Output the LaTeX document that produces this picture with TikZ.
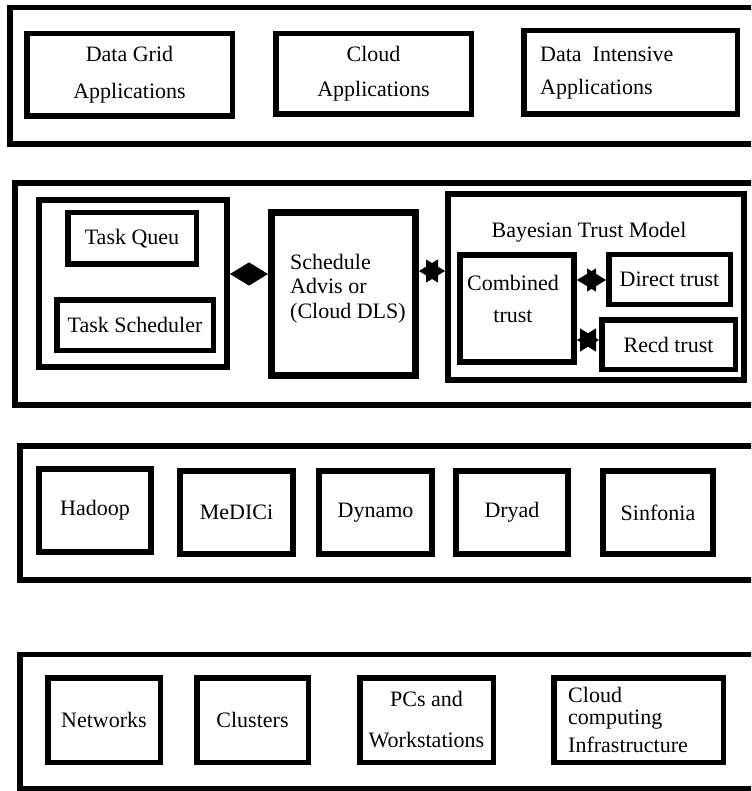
\documentclass[tikz,border=0pt]{standalone}
\usepackage{fontspec}
\setmainfont{Liberation Serif}
\usetikzlibrary{arrows.meta}
\begin{document}
\begin{tikzpicture}[x=1pt,y=-1pt,
  frame/.style={draw=black, line width=5.5pt, inner sep=0pt},
  box/.style={draw=black, line width=5.5pt, inner sep=0pt, align=center, font=\fontsize{22}{26}\selectfont},
  lbl/.style={inner sep=0pt, align=left, font=\fontsize{22}{26}\selectfont},
  arr/.style={{Triangle[length=19pt,width=23pt]}-{Triangle[length=19pt,width=23pt]}, line width=1pt}
]
\useasboundingbox (0,0) rectangle (751,791);
\clip (0,0) rectangle (751,791);

% ---- layer 1: applications
\node[frame, minimum width=770pt, minimum height=136.5pt] (f1) at (394.9,76) {};
\node[box, minimum width=205.5pt, minimum height=82.5pt, font=\fontsize{22}{37}\selectfont] (dga) at (129.5,75) {Data Grid\\Applications};
\node[box, minimum width=195.5pt, minimum height=80.5pt, font=\fontsize{22}{35}\selectfont] (ca) at (373.5,74) {Cloud\\Applications};
\node[box, minimum width=213.5pt, minimum height=83.5pt] (dia) at (630.5,72.5) {};
\node[lbl, anchor=west, font=\fontsize{22}{33}\selectfont] (diat) at (540,73.5) {Data\ \ Intensive\\Applications};

% ---- layer 2: scheduling
\node[frame, line width=6pt, minimum width=765pt, minimum height=222pt] (f2) at (397.5,294) {};
\node[frame, line width=6pt, minimum width=188pt, minimum height=167pt] (lg) at (133,283.5) {};
\node[box, minimum width=128.5pt, minimum height=51.5pt] (tq) at (132,238.5) {Task Queu};
\node[box, minimum width=156.5pt, minimum height=50.5pt] (ts) at (135,325) {Task Scheduler};
\node[box, line width=7pt, minimum width=144pt, minimum height=163pt] (sa) at (343.5,294) {};
\node[lbl, anchor=west, font=\fontsize{22}{24.5}\selectfont] (sat) at (290,288.5) {Schedule\\Advis or\\(Cloud DLS)};
\node[frame, line width=6pt, minimum width=296pt, minimum height=186pt] (btm) at (596,287) {};
\node[lbl] (btt) at (589,232) {Bayesian Trust Model};
\node[box, line width=6pt, minimum width=114pt, minimum height=107pt] (ct) at (517,308.5) {};
\node[lbl, align=center, font=\fontsize{22}{32}\selectfont] (ctt) at (513,299) {Combined\\trust};
\node[box, minimum width=121.5pt, minimum height=49.5pt] (dt) at (669.5,279.5) {Direct trust};
\node[box, minimum width=133.5pt, minimum height=49.5pt] (rt) at (668.5,344.5) {Recd trust};

\coordinate (y1) at (0,274);
\coordinate (y2) at (0,271);
\coordinate (y3) at (0,280);
\coordinate (y4) at (0,340);
\draw[arr] (lg.east |- y1) -- (sa.west |- y1);
\draw[arr] (sa.east |- y2) -- (btm.west |- y2);
\draw[arr] (ct.east |- y3) -- (dt.west |- y3);
\draw[arr] (ct.east |- y4) -- (rt.west |- y4);

% ---- layer 3: middleware
\node[frame, line width=6.5pt, minimum width=760pt, minimum height=134pt] (f3) at (400,513) {};
\node[box, line width=6pt, minimum width=112pt, minimum height=83pt] (hd) at (95,510.5) {Hadoop};
\node[box, line width=6pt, minimum width=113pt, minimum height=83pt] (md) at (236.5,512.5) {MeDICi};
\node[box, line width=6pt, minimum width=113pt, minimum height=83pt] (dy) at (375.5,512.5) {Dynamo};
\node[box, line width=6pt, minimum width=112pt, minimum height=83pt] (dr) at (512,512.5) {Dryad};
\node[box, line width=6pt, minimum width=110pt, minimum height=83pt] (sf) at (658,512.5) {Sinfonia};

% ---- layer 4: infrastructure
\node[frame, minimum width=760pt, minimum height=134pt] (f4) at (400,721.5) {};
\node[box, minimum width=112.5pt, minimum height=84.5pt] (nw) at (104,720) {Networks};
\node[box, minimum width=111.5pt, minimum height=84.5pt] (cl) at (252.5,720) {Clusters};
\node[box, minimum width=133.5pt, minimum height=84.5pt, font=\fontsize{22}{41}\selectfont] (pc) at (426.5,720) {PCs and\\Workstations};
\node[box, minimum width=169.5pt, minimum height=84.5pt] (cci) at (638.5,720) {};
\node[lbl, anchor=west, font=\fontsize{22}{22}\selectfont] (ccit) at (568,720) {Cloud\\computing\\[6pt]Infrastructure};
\end{tikzpicture}
\end{document}
